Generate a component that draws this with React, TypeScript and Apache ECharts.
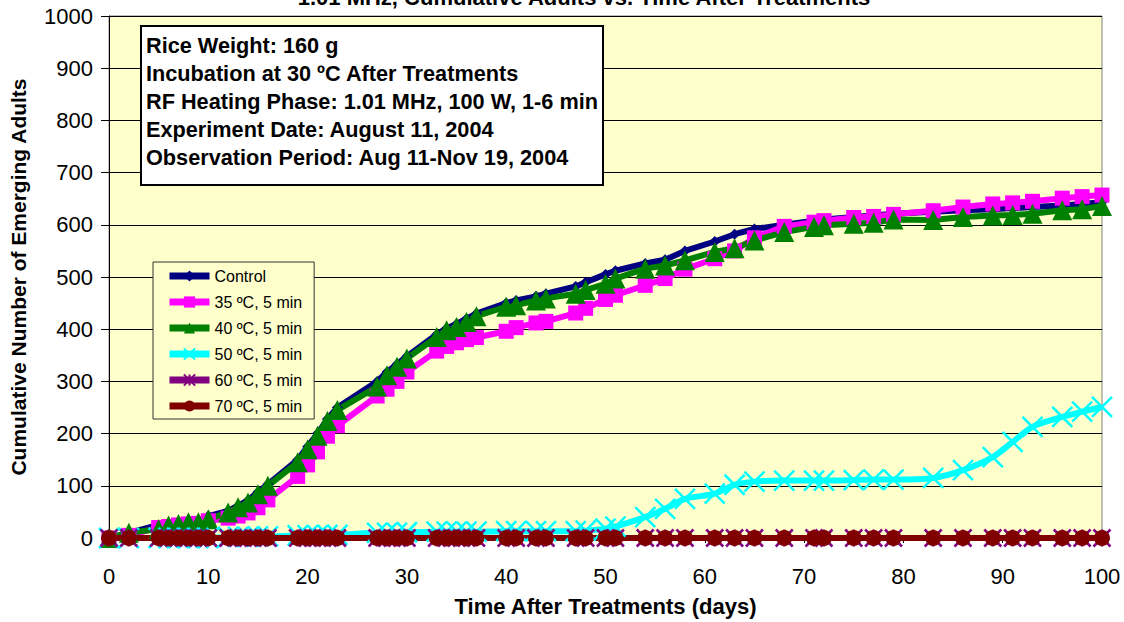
import React, { useEffect, useRef } from "react";
import * as echarts from "echarts";

const FONT = '"Liberation Sans", Arial, sans-serif';

const chartTitle = "1.01 MHz, Cumulative Adults vs. Time After Treatments";
const xAxisTitle = "Time After Treatments (days)";
const yAxisTitle = "Cumulative Number of Emerging Adults";

const infoLines = [
  "Rice Weight: 160 g",
  "Incubation at 30 ºC After Treatments",
  "RF Heating Phase: 1.01 MHz, 100 W, 1-6 min",
  "Experiment Date: August 11, 2004",
  "Observation Period: Aug 11-Nov 19, 2004",
];

const seriesNames = [
  "Control",
  "35 ºC, 5 min",
  "40 ºC, 5 min",
  "50 ºC, 5 min",
  "60 ºC, 5 min",
  "70 ºC, 5 min",
];

const days = [
  0, 2, 5, 6, 7, 8, 9, 10, 12, 13, 14, 15, 16, 19, 20, 21, 22, 23, 27, 28, 29,
  30, 33, 34, 35, 36, 37, 40, 41, 43, 44, 47, 48, 50, 51, 54, 56, 58, 61, 63,
  65, 68, 71, 72, 75, 77, 79, 83, 86, 89, 91, 93, 96, 98, 100,
];

const control = [
  0, 10, 25, 28, 30, 32, 33, 42, 52, 62, 72, 88, 103, 150, 175, 200, 228, 250,
  300, 318, 333, 348, 390, 402, 410, 420, 430, 450, 455, 463, 468, 482, 490,
  505, 512, 526, 533, 550, 568, 582, 592, 600, 608, 610, 615, 618, 621, 625,
  628, 630, 632, 634, 637, 640, 643,
];

const c35 = [
  0, 5, 20, 22, 25, 27, 28, 33, 38, 42, 48, 58, 73, 118, 140, 165, 195, 215,
  272, 285, 300, 318, 358, 367, 374, 380, 384, 396, 403, 412, 415, 431, 440,
  457, 465, 484, 497, 515, 535, 550, 575, 597, 605, 608, 614, 616, 620, 627,
  634, 640, 642, 645, 651, 654, 657,
];

const c40 = [
  0, 10, 17, 24, 27, 30, 30, 36, 49, 59, 68, 84, 100, 145, 170, 196, 224, 245,
  290, 312, 328, 344, 385, 398, 404, 414, 425, 443, 446, 455, 459, 468, 475,
  487, 497, 516, 522, 532, 548, 555, 570, 586, 596, 599, 602, 604, 610, 609,
  615, 618, 619, 621, 628, 630, 636,
];

const c50 = [
  0, 0, 0, 0, 0, 0, 0, 0, 2, 2, 2, 3, 3, 5, 5, 5, 6, 6, 10, 10, 10, 11, 12, 12,
  12, 12, 12, 13, 13, 13, 13, 13, 14, 18, 22, 40, 56, 75, 85, 102, 108, 110,
  110, 110, 111, 112, 112, 115, 130, 155, 184, 213, 232, 242, 251,
];

const c60 = days.map(() => 0);
const c70 = days.map(() => 0);

const xMin = 0;
const xMax = 100;
const xStep = 10;
const yMin = 0;
const yMax = 1000;
const yStep = 100;

const SYM_X = "path://M0,0L10,10M10,0L0,10";
const SYM_STAR = "path://M0,0L10,10M10,0L0,10M5,0L5,10";

export default function App() {
  const ref = useRef<HTMLDivElement>(null);

  useEffect(() => {
    if (!ref.current) return;
    const chart = echarts.init(ref.current, undefined, { renderer: "svg" });

    const pairs = (vals: number[]) => days.map((d, i) => [d, vals[i]]);

    const mk = (
      name: string,
      vals: number[],
      color: string,
      symbol: string,
      symbolSize: number,
      opts: any = {}
    ) => ({
      name,
      type: "line",
      data: pairs(vals),
      symbol,
      symbolSize,
      clip: false,
      lineStyle: { color, width: 6 },
      itemStyle: {
        color,
        borderColor: color,
        borderWidth: opts.borderWidth ?? 0,
      },
      smooth: opts.smooth ?? false,
      emphasis: { disabled: true },
    });

    const option: any = {
      animation: false,
      backgroundColor: "#ffffff",
      textStyle: { fontFamily: FONT },
      grid: {
        left: 108,
        right: 22,
        top: 16,
        bottom: 83,
        show: true,
        backgroundColor: "#FFFFCC",
        borderColor: "#808080",
        borderWidth: 1,
      },
      legend: {
        orient: "vertical",
        left: 153,
        top: 262,
        backgroundColor: "#FFFFCC",
        borderColor: "#333333",
        borderWidth: 1,
        padding: [6, 12, 5, 13],
        itemWidth: 40,
        itemHeight: 14,
        itemGap: 10,
        lineStyle: { width: 7 },
        textStyle: {
          fontSize: 16,
          color: "#000",
          fontFamily: FONT,
          padding: [10, 0, 0, 0],
        },
        data: seriesNames,
      },
      xAxis: {
        type: "value",
        min: xMin,
        max: xMax,
        interval: xStep,
        name: xAxisTitle,
        nameLocation: "middle",
        nameGap: 57,
        nameTextStyle: {
          fontSize: 22,
          fontWeight: "bold",
          color: "#000",
          fontFamily: FONT,
        },
        axisLine: { show: true, lineStyle: { color: "#000", width: 1 } },
        axisTick: { show: true, length: 5, lineStyle: { color: "#000" } },
        axisLabel: { fontSize: 22, color: "#000", margin: 27, fontFamily: FONT },
        splitLine: { show: false },
      },
      yAxis: {
        type: "value",
        min: yMin,
        max: yMax,
        interval: yStep,
        name: yAxisTitle,
        nameLocation: "middle",
        nameRotate: 90,
        nameGap: 80,
        nameTextStyle: {
          fontSize: 21,
          fontWeight: "bold",
          color: "#000",
          fontFamily: FONT,
        },
        axisLine: { show: true, lineStyle: { color: "#000", width: 1 } },
        axisTick: { show: true, length: 8, lineStyle: { color: "#000" } },
        axisLabel: {
          fontSize: 22,
          color: "#000",
          margin: 16,
          fontFamily: FONT,
          formatter: (v: number) => String(v),
        },
        splitLine: { show: true, lineStyle: { color: "#000", width: 1 } },
      },
      series: [
        mk(seriesNames[0], control, "#000080", "diamond", 11),
        mk(seriesNames[1], c35, "#FF00FF", "rect", 15),
        mk(seriesNames[2], c40, "#008000", "triangle", 20),
        mk(seriesNames[3], c50, "#00FFFF", SYM_X, 20, { borderWidth: 2.5, smooth: 0.3 }),
        mk(seriesNames[4], c60, "#800080", SYM_STAR, 17, { borderWidth: 2.5 }),
        mk(seriesNames[5], c70, "#800000", "circle", 16),
      ],
      graphic: [
        {
          type: "text",
          x: 584,
          y: -3,
          z: 100,
          style: {
            text: chartTitle,
            fontSize: 22,
            fontWeight: "bold",
            fontFamily: FONT,
            fill: "#000",
            align: "center",
            verticalAlign: "middle",
          },
        },
        {
          type: "rect",
          z: 100,
          shape: { x: 141, y: 26, width: 462, height: 159 },
          style: { fill: "#ffffff", stroke: "#000", lineWidth: 2 },
        },
        ...infoLines.map((t, i) => ({
          type: "text",
          z: 101,
          x: 146,
          y: 45 + i * 28.2,
          style: {
            text: t,
            fontSize: 21.7,
            fontWeight: "bold",
            fontFamily: FONT,
            fill: "#000",
            align: "left",
            verticalAlign: "middle",
          },
        })),
      ],
    };

    chart.setOption(option);
    return () => chart.dispose();
  }, []);

  return (
    <div
      ref={ref}
      style={{ position: "fixed", left: 0, top: 0, width: 1124, height: 622 }}
    />
  );
}
